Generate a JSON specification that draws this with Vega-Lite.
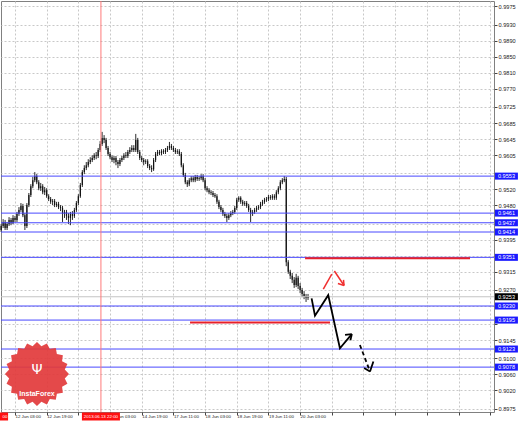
{
"$schema": "https://vega.github.io/schema/vega-lite/v6.json",
"width": 493, "height": 411,
"autosize": {"type": "none"},
"padding": {"left": 1, "top": 1, "right": 25, "bottom": 10},
"background": "white",
"config": {"view": {"stroke": "#808080", "strokeWidth": 1}, "axis": {"title": null}},
"resolve": {"axis": {"x": "independent", "y": "independent"}},
"datasets": {
"candles": [
{"i":-7,"o":0.9419,"h":0.9434,"l":0.9414,"c":0.9429},
{"i":-6,"o":0.9429,"h":0.9446,"l":0.9424,"c":0.9439},
{"i":-5,"o":0.9439,"h":0.9444,"l":0.9419,"c":0.9424},
{"i":-4,"o":0.9424,"h":0.9439,"l":0.9419,"c":0.9434},
{"i":-3,"o":0.9434,"h":0.9451,"l":0.9429,"c":0.9444},
{"i":-2,"o":0.9444,"h":0.9449,"l":0.9431,"c":0.9436},
{"i":-1,"o":0.9436,"h":0.9456,"l":0.9434,"c":0.9449},
{"i":0,"o":0.9449,"h":0.9454,"l":0.9439,"c":0.9444},
{"i":1,"o":0.9444,"h":0.9464,"l":0.9439,"c":0.9459},
{"i":2,"o":0.9459,"h":0.9476,"l":0.9454,"c":0.9469},
{"i":3,"o":0.9469,"h":0.9486,"l":0.9464,"c":0.9479},
{"i":4,"o":0.9479,"h":0.9484,"l":0.9451,"c":0.9456},
{"i":5,"o":0.9456,"h":0.9461,"l":0.9419,"c":0.9429},
{"i":6,"o":0.9429,"h":0.9486,"l":0.9424,"c":0.9481},
{"i":7,"o":0.9481,"h":0.9511,"l":0.9476,"c":0.9506},
{"i":8,"o":0.9506,"h":0.9533,"l":0.9501,"c":0.9528},
{"i":9,"o":0.9528,"h":0.9551,"l":0.9523,"c":0.9543},
{"i":10,"o":0.9543,"h":0.9563,"l":0.9538,"c":0.9553},
{"i":11,"o":0.9553,"h":0.9558,"l":0.9533,"c":0.9538},
{"i":12,"o":0.9538,"h":0.9543,"l":0.9518,"c":0.9523},
{"i":13,"o":0.9523,"h":0.9536,"l":0.9516,"c":0.9528},
{"i":14,"o":0.9528,"h":0.9533,"l":0.9508,"c":0.9513},
{"i":15,"o":0.9513,"h":0.9526,"l":0.9506,"c":0.9518},
{"i":16,"o":0.9518,"h":0.9523,"l":0.9499,"c":0.9503},
{"i":17,"o":0.9503,"h":0.9508,"l":0.9491,"c":0.9496},
{"i":18,"o":0.9496,"h":0.9501,"l":0.9484,"c":0.9489},
{"i":19,"o":0.9489,"h":0.9496,"l":0.9481,"c":0.9491},
{"i":20,"o":0.9491,"h":0.9496,"l":0.9476,"c":0.9481},
{"i":21,"o":0.9481,"h":0.9489,"l":0.9476,"c":0.9484},
{"i":22,"o":0.9484,"h":0.9489,"l":0.9471,"c":0.9476},
{"i":23,"o":0.9476,"h":0.9481,"l":0.9466,"c":0.9474},
{"i":24,"o":0.9474,"h":0.9479,"l":0.9439,"c":0.9459},
{"i":25,"o":0.9459,"h":0.9469,"l":0.9449,"c":0.9464},
{"i":26,"o":0.9464,"h":0.9469,"l":0.9444,"c":0.9454},
{"i":27,"o":0.9454,"h":0.9461,"l":0.9434,"c":0.9449},
{"i":28,"o":0.9449,"h":0.9464,"l":0.9431,"c":0.9459},
{"i":29,"o":0.9459,"h":0.9466,"l":0.9444,"c":0.9454},
{"i":30,"o":0.9454,"h":0.9474,"l":0.9449,"c":0.9469},
{"i":31,"o":0.9469,"h":0.9491,"l":0.9464,"c":0.9486},
{"i":32,"o":0.9486,"h":0.9508,"l":0.9481,"c":0.9503},
{"i":33,"o":0.9503,"h":0.9536,"l":0.9499,"c":0.9531},
{"i":34,"o":0.9531,"h":0.9568,"l":0.9526,"c":0.9563},
{"i":35,"o":0.9563,"h":0.9580,"l":0.9558,"c":0.9573},
{"i":36,"o":0.9573,"h":0.9588,"l":0.9568,"c":0.9580},
{"i":37,"o":0.9580,"h":0.9595,"l":0.9575,"c":0.9588},
{"i":38,"o":0.9588,"h":0.9600,"l":0.9583,"c":0.9593},
{"i":39,"o":0.9593,"h":0.9605,"l":0.9588,"c":0.9598},
{"i":40,"o":0.9598,"h":0.9610,"l":0.9593,"c":0.9605},
{"i":41,"o":0.9605,"h":0.9613,"l":0.9595,"c":0.9603},
{"i":42,"o":0.9603,"h":0.9623,"l":0.9598,"c":0.9618},
{"i":43,"o":0.9618,"h":0.9640,"l":0.9613,"c":0.9633},
{"i":44,"o":0.9633,"h":0.9663,"l":0.9628,"c":0.9648},
{"i":45,"o":0.9648,"h":0.9655,"l":0.9635,"c":0.9643},
{"i":46,"o":0.9643,"h":0.9648,"l":0.9618,"c":0.9623},
{"i":47,"o":0.9623,"h":0.9628,"l":0.9603,"c":0.9608},
{"i":48,"o":0.9608,"h":0.9613,"l":0.9595,"c":0.9600},
{"i":49,"o":0.9600,"h":0.9605,"l":0.9588,"c":0.9593},
{"i":50,"o":0.9593,"h":0.9603,"l":0.9585,"c":0.9598},
{"i":51,"o":0.9598,"h":0.9603,"l":0.9580,"c":0.9588},
{"i":52,"o":0.9588,"h":0.9593,"l":0.9573,"c":0.9583},
{"i":53,"o":0.9583,"h":0.9598,"l":0.9578,"c":0.9593},
{"i":54,"o":0.9593,"h":0.9603,"l":0.9588,"c":0.9598},
{"i":55,"o":0.9598,"h":0.9610,"l":0.9593,"c":0.9605},
{"i":56,"o":0.9605,"h":0.9613,"l":0.9598,"c":0.9603},
{"i":57,"o":0.9603,"h":0.9618,"l":0.9598,"c":0.9613},
{"i":58,"o":0.9613,"h":0.9625,"l":0.9608,"c":0.9618},
{"i":59,"o":0.9618,"h":0.9630,"l":0.9613,"c":0.9623},
{"i":60,"o":0.9623,"h":0.9630,"l":0.9613,"c":0.9618},
{"i":61,"o":0.9618,"h":0.9658,"l":0.9613,"c":0.9643},
{"i":62,"o":0.9643,"h":0.9648,"l":0.9608,"c":0.9613},
{"i":63,"o":0.9613,"h":0.9618,"l":0.9593,"c":0.9598},
{"i":64,"o":0.9598,"h":0.9603,"l":0.9588,"c":0.9593},
{"i":65,"o":0.9593,"h":0.9598,"l":0.9580,"c":0.9588},
{"i":66,"o":0.9588,"h":0.9595,"l":0.9583,"c":0.9590},
{"i":67,"o":0.9590,"h":0.9595,"l":0.9573,"c":0.9578},
{"i":68,"o":0.9578,"h":0.9583,"l":0.9568,"c":0.9573},
{"i":69,"o":0.9573,"h":0.9580,"l":0.9563,"c":0.9570},
{"i":70,"o":0.9570,"h":0.9598,"l":0.9566,"c":0.9593},
{"i":71,"o":0.9593,"h":0.9613,"l":0.9588,"c":0.9608},
{"i":72,"o":0.9608,"h":0.9618,"l":0.9603,"c":0.9613},
{"i":73,"o":0.9613,"h":0.9618,"l":0.9605,"c":0.9610},
{"i":74,"o":0.9610,"h":0.9620,"l":0.9605,"c":0.9615},
{"i":75,"o":0.9615,"h":0.9620,"l":0.9608,"c":0.9613},
{"i":76,"o":0.9613,"h":0.9623,"l":0.9608,"c":0.9618},
{"i":77,"o":0.9618,"h":0.9628,"l":0.9613,"c":0.9623},
{"i":78,"o":0.9623,"h":0.9638,"l":0.9618,"c":0.9628},
{"i":79,"o":0.9628,"h":0.9633,"l":0.9618,"c":0.9623},
{"i":80,"o":0.9623,"h":0.9628,"l":0.9613,"c":0.9618},
{"i":81,"o":0.9618,"h":0.9623,"l":0.9608,"c":0.9613},
{"i":82,"o":0.9613,"h":0.9620,"l":0.9608,"c":0.9615},
{"i":83,"o":0.9615,"h":0.9620,"l":0.9603,"c":0.9608},
{"i":84,"o":0.9608,"h":0.9613,"l":0.9575,"c":0.9580},
{"i":85,"o":0.9580,"h":0.9585,"l":0.9551,"c":0.9556},
{"i":86,"o":0.9556,"h":0.9561,"l":0.9533,"c":0.9538},
{"i":87,"o":0.9538,"h":0.9543,"l":0.9526,"c":0.9533},
{"i":88,"o":0.9533,"h":0.9548,"l":0.9528,"c":0.9543},
{"i":89,"o":0.9543,"h":0.9553,"l":0.9538,"c":0.9548},
{"i":90,"o":0.9548,"h":0.9553,"l":0.9538,"c":0.9543},
{"i":91,"o":0.9543,"h":0.9556,"l":0.9538,"c":0.9551},
{"i":92,"o":0.9551,"h":0.9556,"l":0.9541,"c":0.9546},
{"i":93,"o":0.9546,"h":0.9553,"l":0.9541,"c":0.9548},
{"i":94,"o":0.9548,"h":0.9558,"l":0.9543,"c":0.9553},
{"i":95,"o":0.9553,"h":0.9558,"l":0.9538,"c":0.9543},
{"i":96,"o":0.9543,"h":0.9548,"l":0.9518,"c":0.9523},
{"i":97,"o":0.9523,"h":0.9528,"l":0.9513,"c":0.9518},
{"i":98,"o":0.9518,"h":0.9523,"l":0.9508,"c":0.9513},
{"i":99,"o":0.9513,"h":0.9518,"l":0.9506,"c":0.9511},
{"i":100,"o":0.9511,"h":0.9516,"l":0.9501,"c":0.9506},
{"i":101,"o":0.9506,"h":0.9511,"l":0.9499,"c":0.9503},
{"i":102,"o":0.9503,"h":0.9508,"l":0.9484,"c":0.9489},
{"i":103,"o":0.9489,"h":0.9494,"l":0.9471,"c":0.9476},
{"i":104,"o":0.9476,"h":0.9481,"l":0.9464,"c":0.9469},
{"i":105,"o":0.9469,"h":0.9474,"l":0.9454,"c":0.9459},
{"i":106,"o":0.9459,"h":0.9464,"l":0.9449,"c":0.9454},
{"i":107,"o":0.9454,"h":0.9459,"l":0.9439,"c":0.9449},
{"i":108,"o":0.9449,"h":0.9461,"l":0.9444,"c":0.9456},
{"i":109,"o":0.9456,"h":0.9466,"l":0.9451,"c":0.9461},
{"i":110,"o":0.9461,"h":0.9469,"l":0.9456,"c":0.9464},
{"i":111,"o":0.9464,"h":0.9479,"l":0.9459,"c":0.9474},
{"i":112,"o":0.9474,"h":0.9499,"l":0.9469,"c":0.9494},
{"i":113,"o":0.9494,"h":0.9503,"l":0.9489,"c":0.9499},
{"i":114,"o":0.9499,"h":0.9503,"l":0.9484,"c":0.9489},
{"i":115,"o":0.9489,"h":0.9494,"l":0.9479,"c":0.9484},
{"i":116,"o":0.9484,"h":0.9491,"l":0.9479,"c":0.9486},
{"i":117,"o":0.9486,"h":0.9491,"l":0.9474,"c":0.9479},
{"i":118,"o":0.9479,"h":0.9484,"l":0.9464,"c":0.9469},
{"i":119,"o":0.9469,"h":0.9474,"l":0.9439,"c":0.9459},
{"i":120,"o":0.9459,"h":0.9469,"l":0.9454,"c":0.9464},
{"i":121,"o":0.9464,"h":0.9474,"l":0.9459,"c":0.9469},
{"i":122,"o":0.9469,"h":0.9479,"l":0.9464,"c":0.9474},
{"i":123,"o":0.9474,"h":0.9481,"l":0.9469,"c":0.9476},
{"i":124,"o":0.9476,"h":0.9489,"l":0.9471,"c":0.9484},
{"i":125,"o":0.9484,"h":0.9494,"l":0.9479,"c":0.9489},
{"i":126,"o":0.9489,"h":0.9499,"l":0.9484,"c":0.9494},
{"i":127,"o":0.9494,"h":0.9501,"l":0.9489,"c":0.9496},
{"i":128,"o":0.9496,"h":0.9506,"l":0.9491,"c":0.9501},
{"i":129,"o":0.9501,"h":0.9506,"l":0.9494,"c":0.9499},
{"i":130,"o":0.9499,"h":0.9508,"l":0.9494,"c":0.9503},
{"i":131,"o":0.9503,"h":0.9508,"l":0.9494,"c":0.9499},
{"i":132,"o":0.9499,"h":0.9518,"l":0.9494,"c":0.9513},
{"i":133,"o":0.9513,"h":0.9528,"l":0.9508,"c":0.9523},
{"i":134,"o":0.9523,"h":0.9543,"l":0.9518,"c":0.9538},
{"i":135,"o":0.9538,"h":0.9548,"l":0.9533,"c":0.9543},
{"i":136,"o":0.9543,"h":0.9553,"l":0.9538,"c":0.9546},
{"i":137,"o":0.9546,"h":0.9551,"l":0.9329,"c":0.9339},
{"i":138,"o":0.9339,"h":0.9344,"l":0.9310,"c":0.9315},
{"i":139,"o":0.9315,"h":0.9320,"l":0.9297,"c":0.9305},
{"i":140,"o":0.9305,"h":0.9312,"l":0.9287,"c":0.9295},
{"i":141,"o":0.9295,"h":0.9302,"l":0.9275,"c":0.9282},
{"i":142,"o":0.9282,"h":0.9310,"l":0.9277,"c":0.9300},
{"i":143,"o":0.9300,"h":0.9305,"l":0.9272,"c":0.9280},
{"i":144,"o":0.9280,"h":0.9287,"l":0.9262,"c":0.9270},
{"i":145,"o":0.9270,"h":0.9275,"l":0.9252,"c":0.9260},
{"i":146,"o":0.9260,"h":0.9267,"l":0.9247,"c":0.9255},
{"i":147,"o":0.9255,"h":0.9260,"l":0.9240,"c":0.9250},
{"i":148,"o":0.9250,"h":0.9260,"l":0.9245,"c":0.9253}
],
"levels": [{"p":0.9553},{"p":0.9461},{"p":0.9437},{"p":0.9414},{"p":0.9351},{"p":0.9230},{"p":0.9195},{"p":0.9123},{"p":0.9078}],
"price": [{"p":0.9253}],
"marker": [{"i":43.4,"t":"2013.06.13 22:00"}],
"zones": [{"i":146.5,"i2":229.8,"p":0.9349},{"i":88.4,"i2":159.1,"p":0.9189}],
"redArrow": [
{"s":"r1","k":0,"i":155.7,"p":0.9272},{"s":"r1","k":1,"i":160.0,"p":0.9309},
{"s":"r2","k":0,"i":161.3,"p":0.9317},{"s":"r2","k":1,"i":166.2,"p":0.9281},
{"s":"r3","k":0,"i":163.1,"p":0.9286},{"s":"r3","k":1,"i":166.2,"p":0.9281},
{"s":"r4","k":0,"i":165.9,"p":0.9295},{"s":"r4","k":1,"i":166.2,"p":0.9281}
],
"mainPath": [
{"s":"m","k":0,"i":149.8,"p":0.9249},{"s":"m","k":1,"i":151.5,"p":0.9206},{"s":"m","k":2,"i":158.2,"p":0.9257},{"s":"m","k":3,"i":164.1,"p":0.9125},{"s":"m","k":4,"i":170.1,"p":0.9160},
{"s":"w1","k":0,"i":166.7,"p":0.9158},{"s":"w1","k":1,"i":170.1,"p":0.9160},
{"s":"w2","k":0,"i":169.4,"p":0.9145},{"s":"w2","k":1,"i":170.1,"p":0.9160},
{"s":"t","k":0,"i":179.3,"p":0.9067},{"s":"t","k":1,"i":181.0,"p":0.9092},
{"s":"w3","k":0,"i":176.3,"p":0.9076},{"s":"w3","k":1,"i":179.3,"p":0.9067}
],
"dashPath": [{"k":0,"i":174.2,"p":0.9133},{"k":1,"i":179.3,"p":0.9067}]
},
"layer": [
{
"data": {"name": "candles"},
"mark": {"type": "rule", "color": "#2a2a2a", "strokeWidth": 1},
"encoding": {
"x": {"field": "i", "type": "quantitative", "scale": {"domain": [-7.07, 241.92], "nice": false, "zero": false},
"axis": {"orient": "bottom", "title": null, "values": [0,16,32,48,64,80,96,112,128,144,160,176,192,208,224,240],
"labelExpr": "datum.value < 150 ? ['12 Jun 03:00','12 Jun 19:00','','14 Jun 03:00','14 Jun 19:00','17 Jun 11:00','18 Jun 03:00','18 Jun 19:00','19 Jun 11:00','20 Jun 03:00'][datum.value/16] : ''",
"grid": true, "gridDash": [2,2], "gridColor": "#c8c8c8", "gridWidth": 1, "domain": false,
"ticks": true, "tickSize": 3, "tickColor": "#444", "labelFontSize": 4.4, "labelFont": "Liberation Sans", "labelColor": "#222",
"labelAlign": "left", "labelBaseline": "top", "labelPadding": -0.5, "labelDx": 1, "labelOverlap": false, "labelFlush": false}},
"y": {"field": "l", "type": "quantitative", "scale": {"domain": [0.89664, 0.99885], "nice": false, "zero": false},
"axis": {"orient": "right", "title": null,
"values": [0.9975,0.9930,0.9890,0.9850,0.9810,0.9770,0.9725,0.9685,0.9645,0.9605,0.9560,0.9520,0.9480,0.9435,0.9395,0.9355,0.9315,0.9270,0.9230,0.9185,0.9145,0.9100,0.9060,0.9020,0.8975],
"labelExpr": "indexof([0.956, 0.9435, 0.9355, 0.923, 0.9185], datum.value) >= 0 ? '' : format(datum.value, '.4f')",
"grid": true, "gridDash": [2,2], "gridColor": "#c8c8c8", "gridWidth": 1, "domain": false,
"ticks": true, "tickSize": 3, "tickColor": "#444", "labelFontSize": 5.6, "labelFont": "Liberation Sans", "labelColor": "#222",
"labelPadding": 1, "labelOverlap": false, "labelFlush": false}},
"y2": {"field": "h"}
}
},
{
"data": {"name": "candles"},
"mark": {"type": "rule", "color": "#111111", "strokeWidth": 1.2},
"encoding": {
"x": {"field": "i", "type": "quantitative", "scale": {"domain": [-7.07, 241.92], "nice": false, "zero": false}, "axis": null},
"y": {"field": "o", "type": "quantitative", "scale": {"domain": [0.89664, 0.99885], "nice": false, "zero": false}, "axis": null},
"y2": {"field": "c"}
}
},
{
"data": {"name": "levels"},
"mark": {"type": "rule", "color": "#4848ff", "strokeWidth": 1},
"encoding": {
"y": {"field": "p", "type": "quantitative", "scale": {"domain": [0.89664, 0.99885], "nice": false, "zero": false}, "axis": null}
}
},
{
"data": {"name": "price"},
"mark": {"type": "rule", "color": "#c4c4c4", "strokeWidth": 1},
"encoding": {
"y": {"field": "p", "type": "quantitative", "scale": {"domain": [0.89664, 0.99885], "nice": false, "zero": false}, "axis": null}
}
},
{
"data": {"name": "marker"},
"mark": {"type": "rule", "color": "#ff7a7a", "strokeWidth": 1},
"encoding": {
"x": {"field": "i", "type": "quantitative", "scale": {"domain": [-7.07, 241.92], "nice": false, "zero": false}, "axis": null}
}
},
{
"data": {"name": "zones"},
"mark": {"type": "rule", "color": "#e8202a", "strokeWidth": 2},
"encoding": {
"x": {"field": "i", "type": "quantitative", "scale": {"domain": [-7.07, 241.92], "nice": false, "zero": false}, "axis": null},
"x2": {"field": "i2"},
"y": {"field": "p", "type": "quantitative", "scale": {"domain": [0.89664, 0.99885], "nice": false, "zero": false}, "axis": null}
}
},
{
"data": {"name": "redArrow"},
"mark": {"type": "line", "color": "#f03030", "strokeWidth": 1.5},
"encoding": {
"x": {"field": "i", "type": "quantitative", "scale": {"domain": [-7.07, 241.92], "nice": false, "zero": false}, "axis": null},
"y": {"field": "p", "type": "quantitative", "scale": {"domain": [0.89664, 0.99885], "nice": false, "zero": false}, "axis": null},
"detail": {"field": "s"},
"order": {"field": "k"}
}
},
{
"data": {"name": "mainPath"},
"mark": {"type": "line", "color": "#000000", "strokeWidth": 1.8},
"encoding": {
"x": {"field": "i", "type": "quantitative", "scale": {"domain": [-7.07, 241.92], "nice": false, "zero": false}, "axis": null},
"y": {"field": "p", "type": "quantitative", "scale": {"domain": [0.89664, 0.99885], "nice": false, "zero": false}, "axis": null},
"detail": {"field": "s"},
"order": {"field": "k"}
}
},
{
"data": {"name": "dashPath"},
"mark": {"type": "line", "color": "#000000", "strokeWidth": 1.8, "strokeDash": [4, 3]},
"encoding": {
"x": {"field": "i", "type": "quantitative", "scale": {"domain": [-7.07, 241.92], "nice": false, "zero": false}, "axis": null},
"y": {"field": "p", "type": "quantitative", "scale": {"domain": [0.89664, 0.99885], "nice": false, "zero": false}, "axis": null},
"order": {"field": "k"}
}
},
{
"data": {"name": "levels"},
"mark": {"type": "rule", "color": "#1a1aff", "strokeWidth": 7, "strokeCap": "butt"},
"encoding": {
"x": {"datum": 242.4, "type": "quantitative", "scale": {"domain": [-7.07, 241.92], "nice": false, "zero": false}, "axis": null},
"x2": {"datum": 254},
"y": {"field": "p", "type": "quantitative", "scale": {"domain": [0.89664, 0.99885], "nice": false, "zero": false}, "axis": null}
}
},
{
"data": {"name": "price"},
"mark": {"type": "rule", "color": "#000000", "strokeWidth": 7, "strokeCap": "butt"},
"encoding": {
"x": {"datum": 242.4, "type": "quantitative", "scale": {"domain": [-7.07, 241.92], "nice": false, "zero": false}, "axis": null},
"x2": {"datum": 254},
"y": {"field": "p", "type": "quantitative", "scale": {"domain": [0.89664, 0.99885], "nice": false, "zero": false}, "axis": null}
}
},
{
"data": {"name": "levels"},
"mark": {"type": "text", "color": "#ffffff", "fontSize": 5.6, "font": "Liberation Sans", "align": "center", "baseline": "middle"},
"encoding": {
"x": {"datum": 248.2, "type": "quantitative", "scale": {"domain": [-7.07, 241.92], "nice": false, "zero": false}, "axis": null},
"y": {"field": "p", "type": "quantitative", "scale": {"domain": [0.89664, 0.99885], "nice": false, "zero": false}, "axis": null},
"text": {"field": "p", "type": "quantitative", "format": ".4f"}
}
},
{
"data": {"name": "price"},
"mark": {"type": "text", "color": "#ffffff", "fontSize": 5.6, "font": "Liberation Sans", "align": "center", "baseline": "middle"},
"encoding": {
"x": {"datum": 248.2, "type": "quantitative", "scale": {"domain": [-7.07, 241.92], "nice": false, "zero": false}, "axis": null},
"y": {"field": "p", "type": "quantitative", "scale": {"domain": [0.89664, 0.99885], "nice": false, "zero": false}, "axis": null},
"text": {"field": "p", "type": "quantitative", "format": ".4f"}
}
},
{
"data": {"name": "marker"},
"mark": {"type": "rule", "color": "#ff1010", "strokeWidth": 8, "strokeCap": "butt"},
"encoding": {
"x": {"datum": 33.8, "type": "quantitative", "scale": {"domain": [-7.07, 241.92], "nice": false, "zero": false}, "axis": null},
"x2": {"datum": 53},
"y": {"datum": 0.89552, "type": "quantitative", "scale": {"domain": [0.89664, 0.99885], "nice": false, "zero": false}, "axis": null}
}
},
{
"data": {"name": "marker"},
"mark": {"type": "text", "color": "#ffffff", "fontSize": 4.4, "font": "Liberation Sans", "align": "center", "baseline": "middle"},
"encoding": {
"x": {"field": "i", "type": "quantitative", "scale": {"domain": [-7.07, 241.92], "nice": false, "zero": false}, "axis": null},
"y": {"datum": 0.89552, "type": "quantitative", "scale": {"domain": [0.89664, 0.99885], "nice": false, "zero": false}, "axis": null},
"text": {"field": "t"}
}
},
{
"data": {"values": [{"t": "00"}]},
"mark": {"type": "rule", "color": "#ff1010", "strokeWidth": 8, "strokeCap": "butt"},
"encoding": {
"x": {"datum": -12, "type": "quantitative", "scale": {"domain": [-7.07, 241.92], "nice": false, "zero": false}, "axis": null},
"x2": {"datum": -3.5},
"y": {"datum": 0.89552, "type": "quantitative", "scale": {"domain": [0.89664, 0.99885], "nice": false, "zero": false}, "axis": null}
}
},
{
"data": {"values": [{"t": "00"}]},
"mark": {"type": "text", "color": "#ffffff", "fontSize": 4.4, "font": "Liberation Sans", "align": "right", "baseline": "middle"},
"encoding": {
"x": {"datum": -3.8, "type": "quantitative", "scale": {"domain": [-7.07, 241.92], "nice": false, "zero": false}, "axis": null},
"y": {"datum": 0.89552, "type": "quantitative", "scale": {"domain": [0.89664, 0.99885], "nice": false, "zero": false}, "axis": null},
"text": {"field": "t"}
}
},
{
"data": {"values": [{"brand": "InstaForex"}]},
"mark": {"type": "point", "filled": true, "color": "#e2393b", "opacity": 0.92, "size": 4096,
"shape": "M1,0L.869,.138L.951,.309L.784,.4L.809,.588L.622,.622L.588,.809L.4,.784L.309,.951L.138,.869L0,1L-.138,.869L-.309,.951L-.4,.784L-.588,.809L-.622,.622L-.809,.588L-.784,.4L-.951,.309L-.869,.138L-1,0L-.869,-.138L-.951,-.309L-.784,-.4L-.809,-.588L-.622,-.622L-.588,-.809L-.4,-.784L-.309,-.951L-.138,-.869L0,-1L.138,-.869L.309,-.951L.4,-.784L.588,-.809L.622,-.622L.809,-.588L.784,-.4L.951,-.309L.869,-.138Z"},
"encoding": {
"x": {"datum": 11.1, "type": "quantitative", "scale": {"domain": [-7.07, 241.92], "nice": false, "zero": false}, "axis": null},
"y": {"datum": 0.9061, "type": "quantitative", "scale": {"domain": [0.89664, 0.99885], "nice": false, "zero": false}, "axis": null}
}
},
{
"data": {"values": [{"icon": "Ψ"}]},
"mark": {"type": "text", "color": "#ffffff", "fontSize": 14, "font": "DejaVu Sans", "align": "center", "baseline": "middle"},
"encoding": {
"x": {"datum": 11.1, "type": "quantitative", "scale": {"domain": [-7.07, 241.92], "nice": false, "zero": false}, "axis": null},
"y": {"datum": 0.9072, "type": "quantitative", "scale": {"domain": [0.89664, 0.99885], "nice": false, "zero": false}, "axis": null},
"text": {"field": "icon"}
}
},
{
"data": {"values": [{"brand": "InstaForex"}]},
"mark": {"type": "text", "color": "#ffffff", "fontSize": 7, "fontWeight": "bold", "font": "Liberation Sans", "align": "center", "baseline": "middle"},
"encoding": {
"x": {"datum": 11.1, "type": "quantitative", "scale": {"domain": [-7.07, 241.92], "nice": false, "zero": false}, "axis": null},
"y": {"datum": 0.9012, "type": "quantitative", "scale": {"domain": [0.89664, 0.99885], "nice": false, "zero": false}, "axis": null},
"text": {"field": "brand"}
}
}
]
}
